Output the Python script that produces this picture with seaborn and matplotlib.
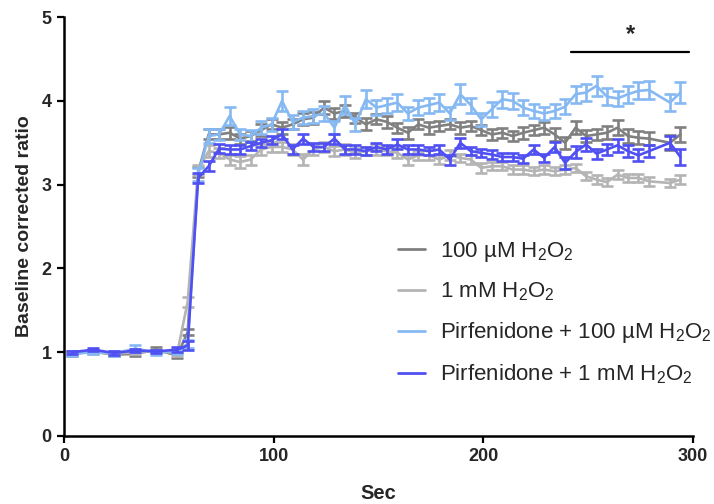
import numpy as np
import pandas as pd
import matplotlib
matplotlib.use("Agg")
import matplotlib.pyplot as plt
import seaborn as sns

# Time points (s): baseline sampled every 10 s, then every 5 s after stimulation
time_base = [4, 14, 24, 34, 44, 54]
time_resp = [59, 64, 69, 74, 79, 84, 89, 94, 99, 104, 109, 114, 119, 124, 129,
             134, 139, 144, 149, 154, 159, 164, 169, 174, 179, 184, 189, 194,
             199, 204, 209, 214, 219, 224, 229, 234, 239, 244, 249, 254, 259,
             264, 269, 274, 279, 289, 294]
time_s = time_base + time_resp

labels = ["100 \u00b5M H$\\mathregular{_2}$O$\\mathregular{_2}$",
          "1 mM H$\\mathregular{_2}$O$\\mathregular{_2}$",
          "Pirfenidone + 100 \u00b5M H$\\mathregular{_2}$O$\\mathregular{_2}$",
          "Pirfenidone + 1 mM H$\\mathregular{_2}$O$\\mathregular{_2}$"]
colors = ["#808080", "#b4b4b4", "#86b9f2", "#4f4ff2"]

# Mean baseline-corrected ratio per condition
h2o2_100uM = [0.98, 1.01, 0.97, 0.98, 1.03, 0.96,
              1.24, 3.15, 3.60, 3.60, 3.62, 3.55, 3.58, 3.65, 3.72, 3.68, 3.72,
              3.78, 3.80, 3.92, 3.85, 3.88, 3.80, 3.72, 3.78, 3.75, 3.68, 3.62,
              3.72, 3.68, 3.70, 3.72, 3.68, 3.70, 3.65, 3.60, 3.62, 3.58, 3.62,
              3.65, 3.68, 3.60, 3.50, 3.68, 3.58, 3.60, 3.62, 3.68, 3.58, 3.56,
              3.55, 3.50, 3.60]
h2o2_1mM = [0.99, 1.00, 0.98, 1.00, 1.01, 0.99,
            1.60, 3.18, 3.40, 3.38, 3.30, 3.27, 3.30, 3.42, 3.45, 3.45, 3.42,
            3.30, 3.42, 3.45, 3.40, 3.42, 3.38, 3.40, 3.42, 3.40, 3.38, 3.30,
            3.35, 3.35, 3.30, 3.35, 3.32, 3.30, 3.20, 3.22, 3.22, 3.18, 3.18,
            3.16, 3.18, 3.16, 3.18, 3.20, 3.10, 3.06, 3.03, 3.12, 3.08, 3.08,
            3.04, 3.02, 3.06]
pfd_100uM = [0.98, 1.00, 0.99, 1.04, 1.00, 1.01,
             1.10, 3.12, 3.58, 3.60, 3.82, 3.60, 3.58, 3.68, 3.72, 4.00, 3.75,
             3.80, 3.82, 3.85, 3.68, 3.95, 3.72, 4.02, 3.92, 3.95, 3.98, 3.85,
             3.92, 3.95, 3.98, 3.85, 4.08, 3.95, 3.78, 3.90, 4.02, 4.00, 3.92,
             3.88, 3.85, 3.88, 3.93, 4.08, 4.10, 4.18, 4.05, 4.03, 4.08, 4.12,
             4.13, 3.98, 4.10]
pfd_1mM = [1.00, 1.03, 0.99, 1.02, 1.01, 1.03,
           1.08, 3.08, 3.22, 3.43, 3.42, 3.42, 3.46, 3.50, 3.53, 3.60, 3.42,
           3.55, 3.45, 3.45, 3.55, 3.42, 3.42, 3.40, 3.45, 3.42, 3.48, 3.42,
           3.42, 3.40, 3.42, 3.30, 3.50, 3.40, 3.38, 3.36, 3.33, 3.33, 3.31,
           3.42, 3.32, 3.45, 3.26, 3.39, 3.48, 3.37, 3.42, 3.47, 3.40, 3.35,
           3.40, 3.50, 3.33]

# Standard error of the mean per condition
h2o2_100uM_sem = [0.02, 0.02, 0.02, 0.02, 0.03, 0.03,
                  0.04, 0.06, 0.06, 0.06, 0.07, 0.06, 0.06, 0.07, 0.06, 0.07,
                  0.06, 0.07, 0.07, 0.08, 0.07, 0.07, 0.06, 0.07, 0.06, 0.07,
                  0.06, 0.07, 0.06, 0.07, 0.06, 0.06, 0.07, 0.06, 0.06, 0.07,
                  0.06, 0.06, 0.07, 0.06, 0.07, 0.08, 0.07, 0.08, 0.07, 0.07,
                  0.08, 0.09, 0.08, 0.08, 0.08, 0.09, 0.09]
h2o2_1mM_sem = [0.02, 0.02, 0.02, 0.02, 0.02, 0.03,
                0.06, 0.06, 0.07, 0.06, 0.06, 0.07, 0.06, 0.06, 0.06, 0.06,
                0.06, 0.07, 0.06, 0.06, 0.06, 0.06, 0.06, 0.05, 0.06, 0.05,
                0.06, 0.06, 0.05, 0.06, 0.05, 0.06, 0.05, 0.05, 0.06, 0.05,
                0.05, 0.05, 0.05, 0.05, 0.05, 0.05, 0.05, 0.05, 0.05, 0.05,
                0.05, 0.05, 0.05, 0.05, 0.05, 0.05, 0.05]
pfd_100uM_sem = [0.03, 0.02, 0.03, 0.04, 0.03, 0.03,
                 0.05, 0.08, 0.08, 0.07, 0.11, 0.07, 0.07, 0.08, 0.08, 0.12,
                 0.08, 0.08, 0.08, 0.09, 0.08, 0.11, 0.08, 0.11, 0.09, 0.09,
                 0.10, 0.08, 0.09, 0.09, 0.10, 0.08, 0.12, 0.09, 0.08, 0.09,
                 0.10, 0.10, 0.09, 0.08, 0.08, 0.08, 0.09, 0.10, 0.10, 0.12,
                 0.10, 0.09, 0.10, 0.10, 0.11, 0.10, 0.12]
pfd_1mM_sem = [0.02, 0.02, 0.02, 0.02, 0.02, 0.03,
               0.05, 0.06, 0.06, 0.05, 0.05, 0.05, 0.05, 0.05, 0.05, 0.06,
               0.05, 0.06, 0.05, 0.05, 0.06, 0.05, 0.05, 0.05, 0.05, 0.05,
               0.06, 0.05, 0.05, 0.05, 0.05, 0.06, 0.06, 0.05, 0.05, 0.05,
               0.05, 0.05, 0.05, 0.05, 0.05, 0.06, 0.07, 0.07, 0.08, 0.06,
               0.07, 0.08, 0.07, 0.07, 0.07, 0.08, 0.09]

means = [h2o2_100uM, h2o2_1mM, pfd_100uM, pfd_1mM]
sems = [h2o2_100uM_sem, h2o2_1mM_sem, pfd_100uM_sem, pfd_1mM_sem]

# Significance window and marker
sig_start, sig_end, sig_y = 242, 298, 4.58
sig_text = "*"

sns.set_theme(style="ticks")
plt.rcParams["font.family"] = ["Liberation Sans", "DejaVu Sans"]
plt.rcParams["mathtext.fontset"] = "custom"
plt.rcParams["mathtext.rm"] = "Liberation Sans"
plt.rcParams["mathtext.it"] = "Liberation Sans:italic"
plt.rcParams["mathtext.bf"] = "Liberation Sans:bold"

fig = plt.figure(figsize=(7.14, 5.04), dpi=100)
ax = fig.add_axes([0.0896, 0.135, 0.881, 0.831])

for lab, col, m, s in zip(labels, colors, means, sems):
    df = pd.DataFrame({"Sec": time_s, "ratio": m})
    ax.errorbar(time_s, m, yerr=s, fmt="none", ecolor=col, elinewidth=1.9,
                capsize=4, capthick=1.9)
    sns.lineplot(data=df, x="Sec", y="ratio", color=col, linewidth=1.9,
                 label=lab, ax=ax, errorbar=None)

ax.plot([sig_start, sig_end], [sig_y, sig_y], color="black", linewidth=1.6,
        clip_on=False)
ax.text((sig_start + sig_end) / 2, sig_y + 0.08, sig_text, ha="center",
        va="bottom", fontsize=17, fontweight="bold")

ax.set_xlim(0, 300)
ax.set_ylim(0, 5)
ax.set_xticks([0, 100, 200, 300])
ax.set_yticks([0, 1, 2, 3, 4, 5])
ax.set_xlabel("Sec", fontsize=14.5, fontweight="bold", labelpad=13)
ax.set_ylabel("Baseline corrected ratio", fontsize=14, fontweight="bold",
              labelpad=6)
for t in ax.get_xticklabels() + ax.get_yticklabels():
    t.set_fontweight("bold")
    t.set_fontsize(13)
ax.tick_params(axis="both", length=5, width=1.6, color="black", pad=4)
sns.despine(ax=ax)
for sp in ["left", "bottom"]:
    ax.spines[sp].set_linewidth(1.8)
    ax.spines[sp].set_color("black")

handles, hlabels = ax.get_legend_handles_labels()
leg = ax.legend(handles, hlabels, loc="center left",
                bbox_to_anchor=(0.517, 0.294), frameon=False, fontsize=16,
                handlelength=1.2, handletextpad=0.68, labelspacing=0.77,
                borderaxespad=0)
for ln in leg.get_lines():
    ln.set_linewidth(2)

fig.savefig("out.png", dpi=100)
